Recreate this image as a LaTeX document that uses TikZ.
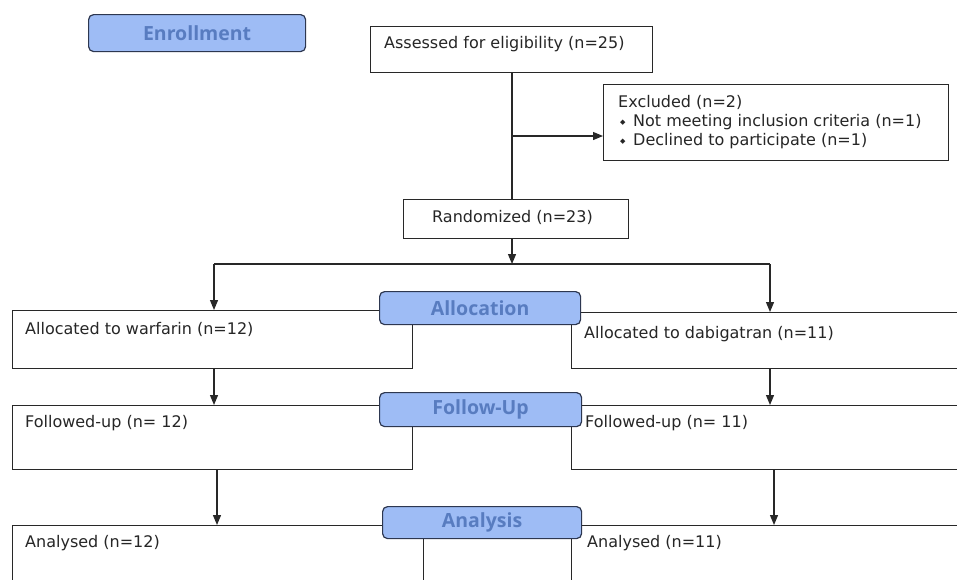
\documentclass[tikz,border=0pt]{standalone}
\usepackage{fontspec}
\setmainfont{DejaVu Sans}
\newfontfamily\lblfont{Open Sans}
\usetikzlibrary{arrows.meta}
\definecolor{lblfill}{RGB}{158,188,245}
\definecolor{lbltext}{RGB}{88,124,192}
\definecolor{lineC}{RGB}{40,40,40}
\definecolor{lblborder}{RGB}{45,55,80}
\begin{document}
\begin{tikzpicture}[x=1pt,y=-1pt,
 box/.style={draw=lineC, line width=1.2pt, inner sep=0pt, anchor=north west, fill=white},
 txt/.style={inner sep=0pt, anchor=base west, font=\fontsize{16}{18}\selectfont, text=black!85},
 lbl/.style={draw=lblborder, fill=lblfill, line width=1.2pt, rounded corners=5pt, inner sep=0pt, text=lbltext, font=\lblfont\bfseries\fontsize{19.5}{21}\selectfont, anchor=north west},
 arr/.style={draw=lineC, line width=1.2pt, -{Triangle[width=8pt,length=10pt]}},
 ln/.style={draw=lineC, line width=1.2pt}]
\useasboundingbox (0,0) rectangle (957,579);
\fill[white] (0,0) rectangle (957,579);
\clip (0,0) rectangle (957,579);

% boxes
\node[box, minimum width=282pt, minimum height=46pt] (assess) at (370,26) {};
\node[box, minimum width=345pt, minimum height=76pt] (excl) at (603,84) {};
\node[box, minimum width=225pt, minimum height=39pt] (rand) at (403,199) {};
\node[box, minimum width=400pt, minimum height=58pt] (allocW) at (12,310) {};
\node[box, minimum width=400pt, minimum height=56pt] (allocD) at (571,312) {};
\node[box, minimum width=400pt, minimum height=64pt] (follW) at (12,405) {};
\node[box, minimum width=400pt, minimum height=64pt] (follD) at (571,405) {};
\node[box, minimum width=411pt, minimum height=90pt] (anaW) at (12,525) {};
\node[box, minimum width=400pt, minimum height=90pt] (anaD) at (571,525) {};

% texts
\node[txt] (assessT) at (384,48) {Assessed for eligibility (n=25)};
\node[txt] (exT1) at (618,107) {Excluded (n=2)};
\node[txt] (exB1) at (620,124) {\fontsize{7}{7}\selectfont ◆};
\node[txt] (exT2) at (633,126) {Not meeting inclusion criteria (n=1)};
\node[txt] (exB2) at (620,143) {\fontsize{7}{7}\selectfont ◆};
\node[txt] (exT3) at (633,145) {Declined to participate (n=1)};
\node[txt] (randT) at (432,222) {Randomized (n=23)};
\node[txt] (allocWT) at (25,334) {Allocated to warfarin (n=12)};
\node[txt] (allocDT) at (584,338) {Allocated to dabigatran (n=11)};
\node[txt] (follWT) at (25,427) {Followed-up (n= 12)};
\node[txt] (follDT) at (585,427) {Followed-up (n= 11)};
\node[txt] (anaWT) at (25,547) {Analysed (n=12)};
\node[txt] (anaDT) at (587,547) {Analysed (n=11)};

% connectors
\coordinate (exbr) at (512,136);
\coordinate (split) at (512,264);
\coordinate (splitL) at (214,264);
\coordinate (splitR) at (770,264);
\coordinate (fa) at (217,0);
\coordinate (fb) at (774,0);
\draw[ln] (exbr |- assess.south) -- (exbr |- rand.north);
\draw[arr] (exbr) -- (excl.west |- exbr);
\draw[arr] (split |- rand.south) -- (split);
\draw[ln] (splitL) -- (splitR);
\draw[arr] (splitL) -- (splitL |- allocW.north);
\draw[arr] (splitR) -- (splitR |- allocD.north);
\draw[arr] (splitL |- allocW.south) -- (splitL |- follW.north);
\draw[arr] (splitR |- allocD.south) -- (splitR |- follD.north);
\draw[arr] (fa |- follW.south) -- (fa |- anaW.north);
\draw[arr] (fb |- follD.south) -- (fb |- anaD.north);

% stage labels
\node[lbl, minimum width=217pt, minimum height=37pt] (enr) at (88,14) {Enrollment};
\node[lbl, minimum width=201pt, minimum height=33pt] (allocL) at (379,291) {Allocation};
\node[lbl, minimum width=202pt, minimum height=34pt] (follL) at (379,392) {Follow-Up};
\node[lbl, minimum width=199pt, minimum height=32pt] (anaL) at (382,506) {Analysis};
\end{tikzpicture}
\end{document}
